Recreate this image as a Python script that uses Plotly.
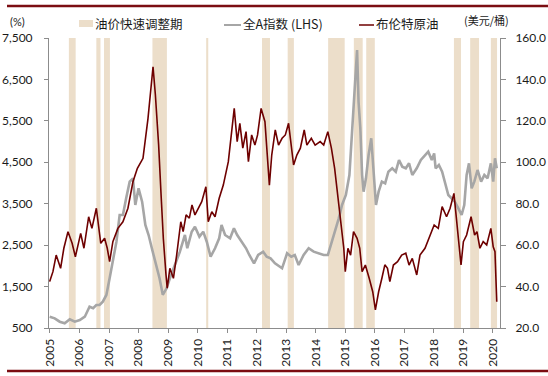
import plotly.graph_objects as go

# ---------------- data ----------------
brent_t = [2004.99, 2005.10, 2005.21, 2005.36, 2005.47, 2005.61, 2005.75, 2005.86, 2006.04, 2006.15,
           2006.31, 2006.42, 2006.57, 2006.72, 2006.85, 2006.94, 2007.02, 2007.13, 2007.30, 2007.47,
           2007.64, 2007.81, 2007.96, 2008.15, 2008.32, 2008.49, 2008.57, 2008.68, 2008.76, 2008.84,
           2008.93, 2008.97, 2009.06, 2009.18, 2009.29, 2009.43, 2009.51, 2009.61, 2009.72, 2009.81,
           2009.91, 2010.02, 2010.14, 2010.28, 2010.36, 2010.48, 2010.59, 2010.73, 2010.87, 2011.04,
           2011.15, 2011.24, 2011.34, 2011.43, 2011.53, 2011.64, 2011.72, 2011.83, 2011.94, 2012.03,
           2012.15, 2012.28, 2012.43, 2012.51, 2012.63, 2012.74, 2012.86, 2012.97, 2013.08, 2013.19,
           2013.25, 2013.36, 2013.48, 2013.61, 2013.70, 2013.85, 2013.98, 2014.15, 2014.27, 2014.41,
           2014.53, 2014.64, 2014.75, 2014.86, 2014.95, 2015.00, 2015.09, 2015.18, 2015.28, 2015.40,
           2015.49, 2015.57, 2015.68, 2015.81, 2015.93, 2016.02, 2016.13, 2016.24, 2016.34, 2016.43,
           2016.51, 2016.63, 2016.77, 2016.91, 2017.05, 2017.16, 2017.27, 2017.42, 2017.53, 2017.70,
           2017.87, 2018.01, 2018.15, 2018.28, 2018.43, 2018.55, 2018.68, 2018.77, 2018.85, 2018.92,
           2019.00, 2019.11, 2019.26, 2019.38, 2019.46, 2019.56, 2019.67, 2019.79, 2019.93, 2020.01,
           2020.07, 2020.13]
brent_v = [42.4, 47.2, 55.2, 48.8, 58.5, 66.5, 60.9, 54.4, 65.7, 58.5,
           73.7, 68.1, 77.8, 60.9, 63.3, 58.5, 52.0, 61.7, 68.1, 71.3,
           77.8, 90.6, 97.1, 101.9, 121.2, 146.1, 132.5, 108.3, 85.0, 63.0,
           45.6, 39.2, 48.8, 44.0, 55.2, 71.3, 66.5, 74.6, 73.0, 79.4,
           74.6, 77.8, 81.0, 88.2, 71.3, 76.1, 73.7, 82.6, 89.0, 100.3,
           115.6, 126.0, 110.0, 118.8, 106.8, 114.8, 100.3, 113.2, 108.3, 113.2,
           126.0, 119.6, 89.0, 103.5, 115.6, 108.3, 111.6, 113.2, 118.8, 106.8,
           98.7, 103.5, 106.8, 115.6, 108.3, 111.6, 108.3, 110.0, 108.3, 114.8,
           106.8, 97.1, 84.2, 71.3, 58.5, 47.2, 58.5, 55.2, 66.5, 63.3,
           58.5, 47.2, 50.4, 44.0, 37.5, 28.7, 37.5, 44.0, 50.5, 48.8,
           42.4, 50.4, 52.0, 55.2, 56.1, 50.4, 53.6, 45.6, 55.2, 58.5,
           64.9, 69.7, 68.1, 78.6, 73.7, 77.8, 85.0, 73.0, 60.1, 50.4,
           61.7, 64.9, 73.7, 64.9, 66.5, 58.5, 61.7, 60.1, 68.1, 59.2,
           56.8, 32.7]

ashare_t = [2004.99, 2005.16, 2005.33, 2005.50, 2005.67, 2005.84, 2006.01, 2006.18, 2006.34, 2006.46,
            2006.57, 2006.68, 2006.79, 2006.91, 2007.02, 2007.13, 2007.25, 2007.36, 2007.47, 2007.58,
            2007.70, 2007.81, 2007.89, 2008.00, 2008.12, 2008.23, 2008.34, 2008.45, 2008.57, 2008.71,
            2008.82, 2008.95, 2009.06, 2009.23, 2009.40, 2009.57, 2009.65, 2009.80, 2009.91, 2010.06,
            2010.19, 2010.31, 2010.44, 2010.59, 2010.73, 2010.81, 2010.93, 2011.10, 2011.23, 2011.34,
            2011.49, 2011.64, 2011.75, 2011.91, 2012.05, 2012.22, 2012.34, 2012.47, 2012.62, 2012.69,
            2012.86, 2013.03, 2013.17, 2013.29, 2013.42, 2013.59, 2013.76, 2013.93, 2014.10, 2014.27,
            2014.41, 2014.53, 2014.66, 2014.78, 2014.89, 2015.02, 2015.14, 2015.23, 2015.32, 2015.40,
            2015.45, 2015.51, 2015.57, 2015.62, 2015.70, 2015.79, 2015.88, 2015.96, 2016.04, 2016.13,
            2016.24, 2016.35, 2016.46, 2016.59, 2016.71, 2016.82, 2016.93, 2017.05, 2017.16, 2017.27,
            2017.42, 2017.56, 2017.70, 2017.81, 2017.93, 2018.01, 2018.06, 2018.17, 2018.28, 2018.40,
            2018.49, 2018.60, 2018.71, 2018.83, 2018.94, 2019.03, 2019.11, 2019.19, 2019.28, 2019.37,
            2019.48, 2019.60, 2019.71, 2019.82, 2019.93, 2020.01, 2020.07, 2020.13]
ashare_v = [773, 734, 652, 613, 710, 652, 693, 773, 1014, 976,
            1055, 1055, 1135, 1297, 1700, 2100, 2583, 3228, 3228, 3631,
            4032, 4114, 3469, 3872, 3549, 2986, 2745, 2424, 2100, 1700,
            1300, 1458, 1700, 2021, 2342, 2745, 2424, 2825, 2946, 2705,
            2825, 2583, 2221, 2424, 2665, 2986, 2745, 2665, 2906, 2745,
            2583, 2424, 2262, 2061, 2262, 2342, 2221, 2182, 2061, 2021,
            1941, 2303, 2221, 2262, 2021, 2262, 2424, 2342, 2303, 2262,
            2262, 2544, 2906, 3148, 3469, 3710, 4193, 5159, 6124, 7210,
            5962, 5320, 4193, 3790, 4114, 4676, 5079, 4355, 3469, 3790,
            4032, 3993, 4273, 4355, 4273, 4555, 4394, 4355, 4475, 4193,
            4355, 4555, 4676, 4757, 4555, 4716, 4355, 4435, 4273, 3952,
            3710, 3631, 3549, 3389, 3228, 3469, 4193, 4475, 3872, 4032,
            4314, 4032, 4193, 4114, 4475, 4032, 4596, 4355]

shade_start = [2005.64, 2006.57, 2006.83, 2008.47, 2010.29, 2012.18, 2013.05, 2014.42, 2015.29, 2015.71,
               2018.68, 2019.23, 2019.93]
shade_end = [2005.87, 2006.71, 2007.03, 2008.96, 2010.36, 2012.45, 2013.26, 2014.98, 2015.59, 2016.00,
             2018.92, 2019.53, 2020.14]

years = list(range(2005, 2021))
year_labels = [str(y) for y in years]
left_ticks = [500, 1500, 2500, 3500, 4500, 5500, 6500, 7500]
right_ticks = [20, 40, 60, 80, 100, 120, 140, 160]

# ---------------- styling ----------------
GREY = "#a6a6a6"
RED = "#6e0000"
SHADE = "#ecdeca"
RULE = "#7b0d12"
AXIS = "#8c8c8c"
TXT = "#1a1a1a"
NUMFONT = "Liberation Sans Narrow, Lato, sans-serif"
CJK = "Noto Sans CJK SC"

PL, PR, PT, PB = 49, 500, 38, 328
W, H = 548, 376


def fx(p):
    return (p - PL) / (PR - PL)


def fy(q):
    return (PB - q) / (PB - PT)


fig = go.Figure()
fig.add_trace(go.Scatter(x=ashare_t, y=ashare_v, mode="lines", name="全A指数 (LHS)",
                         line=dict(color=GREY, width=2.6), yaxis="y", showlegend=False))
fig.add_trace(go.Scatter(x=brent_t, y=brent_v, mode="lines", name="布伦特原油",
                         line=dict(color=RED, width=1.6), yaxis="y2", showlegend=False))

shapes = []
for s, e in zip(shade_start, shade_end):
    shapes.append(dict(type="rect", xref="x", yref="paper", x0=s, x1=e, y0=0, y1=1,
                       fillcolor=SHADE, line=dict(width=0), layer="below"))

# top and bottom rules
shapes.append(dict(type="line", xref="paper", yref="paper", x0=fx(7), x1=fx(548), y0=fy(6), y1=fy(6),
                   line=dict(color=RULE, width=2.5)))
shapes.append(dict(type="line", xref="paper", yref="paper", x0=fx(7), x1=fx(548), y0=fy(371), y1=fy(371),
                   line=dict(color=RULE, width=2.5)))

# legend symbols
shapes.append(dict(type="rect", xref="paper", yref="paper", x0=fx(79), x1=fx(93), y0=fy(27), y1=fy(20),
                   fillcolor=SHADE, line=dict(width=0)))
shapes.append(dict(type="line", xref="paper", yref="paper", x0=fx(224), x1=fx(241), y0=fy(25), y1=fy(25),
                   line=dict(color=GREY, width=2)))
shapes.append(dict(type="line", xref="paper", yref="paper", x0=fx(359), x1=fx(374), y0=fy(25), y1=fy(25),
                   line=dict(color=RED, width=1.5)))

annotations = [
    dict(text="(%)", x=fx(8), y=fy(21), xref="paper", yref="paper", xanchor="left", yanchor="middle",
         showarrow=False, font=dict(family=NUMFONT, size=11, color=TXT)),
    dict(text="(美元/桶)", x=fx(462), y=fy(20), xref="paper", yref="paper", xanchor="left", yanchor="middle",
         showarrow=False, font=dict(family=CJK, size=11, color=TXT)),
    dict(text="油价快速调整期", x=fx(93), y=fy(24), xref="paper", yref="paper", xanchor="left", yanchor="middle",
         showarrow=False, font=dict(family=CJK, size=12.5, color=TXT)),
    dict(text="全A指数 (LHS)", x=fx(241), y=fy(24), xref="paper", yref="paper", xanchor="left", yanchor="middle",
         showarrow=False, font=dict(family=CJK, size=12.5, color=TXT)),
    dict(text="布伦特原油", x=fx(374), y=fy(24), xref="paper", yref="paper", xanchor="left", yanchor="middle",
         showarrow=False, font=dict(family=CJK, size=12.5, color=TXT)),
]

fig.update_layout(
    width=W, height=H, autosize=False,
    margin=dict(l=PL, r=W - PR, t=PT, b=H - PB, pad=0, autoexpand=False),
    paper_bgcolor="white", plot_bgcolor="white",
    showlegend=False, hovermode=False,
    shapes=shapes, annotations=annotations,
    xaxis=dict(range=[2004.967, 2020.24], tickvals=years, ticktext=year_labels, tickangle=-90,
               showgrid=False, zeroline=False, showline=True, linecolor=AXIS, linewidth=1,
               ticks="outside", ticklen=4, tickcolor=AXIS, ticklabelstandoff=1, automargin=False,
               tickfont=dict(family=NUMFONT, size=12, color=TXT)),
    yaxis=dict(range=[500, 7500], tickvals=left_ticks, tickformat=",d",
               showgrid=False, zeroline=False, showline=True, linecolor=AXIS, linewidth=1,
               ticks="outside", ticklen=4, tickcolor=AXIS, ticklabelstandoff=9, automargin=False,
               tickfont=dict(family=NUMFONT, size=12, color=TXT)),
    yaxis2=dict(range=[20, 160], tickvals=right_ticks, tickformat=".1f", overlaying="y", side="right",
                showgrid=False, zeroline=False, showline=True, linecolor=AXIS, linewidth=1,
                ticks="outside", ticklen=5, tickcolor=AXIS, ticklabelstandoff=7, automargin=False,
                tickfont=dict(family=NUMFONT, size=12, color=TXT)),
)

fig.write_html("out.html", config={"displayModeBar": False},
               post_script="document.body.style.margin='0';document.body.style.overflow='hidden';")
